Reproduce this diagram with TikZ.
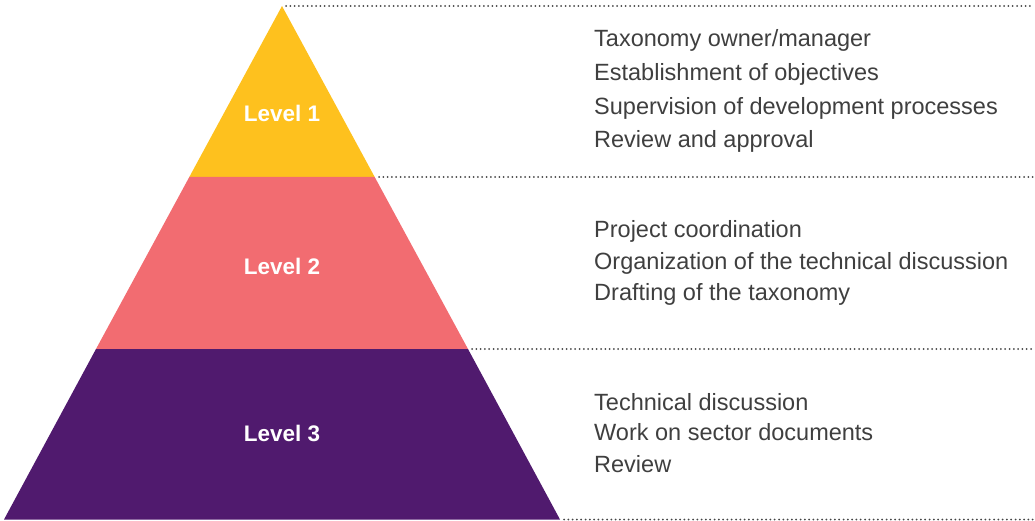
\documentclass[tikz,border=0pt]{standalone}
\usepackage{fontspec}
\setmainfont{Liberation Sans}

\definecolor{lvlone}{HTML}{FEC11E}
\definecolor{lvltwo}{HTML}{F26C71}
\definecolor{lvlthree}{HTML}{501A6E}
\definecolor{txtgray}{HTML}{3F3F3F}
\definecolor{dotgray}{HTML}{444444}

\tikzset{
  dotline/.style={dotgray, line width=2pt, line cap=round, dash pattern=on 0pt off 4.3pt},
  lvllabel/.style={white, font=\fontsize{22.5}{26}\selectfont\bfseries, inner sep=0pt, anchor=base},
  roletext/.style={txtgray, font=\fontsize{23.5}{28}\selectfont, inner sep=0pt, anchor=base west},
}

\begin{document}
\begin{tikzpicture}[x=1pt, y=-1pt]
\useasboundingbox (0,0) rectangle (1035,521);
% pyramid corners
\coordinate (apex) at (282,6);
\coordinate (l1l) at (189.3,177);
\coordinate (l1r) at (374.7,177);
\coordinate (l2l) at (96,349);
\coordinate (l2r) at (468,349);
\coordinate (basel) at (4,519.5);
\coordinate (baser) at (560,519.5);
\fill[lvlone] (apex) -- (l1r) -- (l1l) -- cycle;
\fill[lvltwo] (l1l) -- (l1r) -- (l2r) -- (l2l) -- cycle;
\fill[lvlthree] (l2l) -- (l2r) -- (baser) -- (basel) -- cycle;
% dotted guides
\coordinate (d0a) at (286,6);     \coordinate (d0b) at (1034,6);
\coordinate (d1a) at (379,177);   \coordinate (d1b) at (1034,177);
\coordinate (d2a) at (472,349);   \coordinate (d2b) at (1034,349);
\coordinate (d3a) at (564,519.5); \coordinate (d3b) at (1034,519.5);
\draw[dotline] (d0a) -- (d0b);
\draw[dotline] (d1a) -- (d1b);
\draw[dotline] (d2a) -- (d2b);
\draw[dotline] (d3a) -- (d3b);
% level labels
\node[lvllabel] (lvl1) at (282,121.5) {Level 1};
\node[lvllabel] (lvl2) at (282,274) {Level 2};
\node[lvllabel] (lvl3) at (282,441.5) {Level 3};
% roles
\node[roletext] (r11) at (594,47) {Taxonomy owner/manager};
\node[roletext] (r12) at (594,81) {Establishment of objectives};
\node[roletext] (r13) at (594,114.5) {Supervision of development processes};
\node[roletext] (r14) at (594,148) {Review and approval};
\node[roletext] (r21) at (594,237.7) {Project coordination};
\node[roletext] (r22) at (594,269.3) {Organization of the technical discussion};
\node[roletext] (r23) at (594,300.7) {Drafting of the taxonomy};
\node[roletext] (r31) at (594,410) {Technical discussion};
\node[roletext] (r32) at (594,440) {Work on sector documents};
\node[roletext] (r33) at (594,472.3) {Review};
\end{tikzpicture}
\end{document}
